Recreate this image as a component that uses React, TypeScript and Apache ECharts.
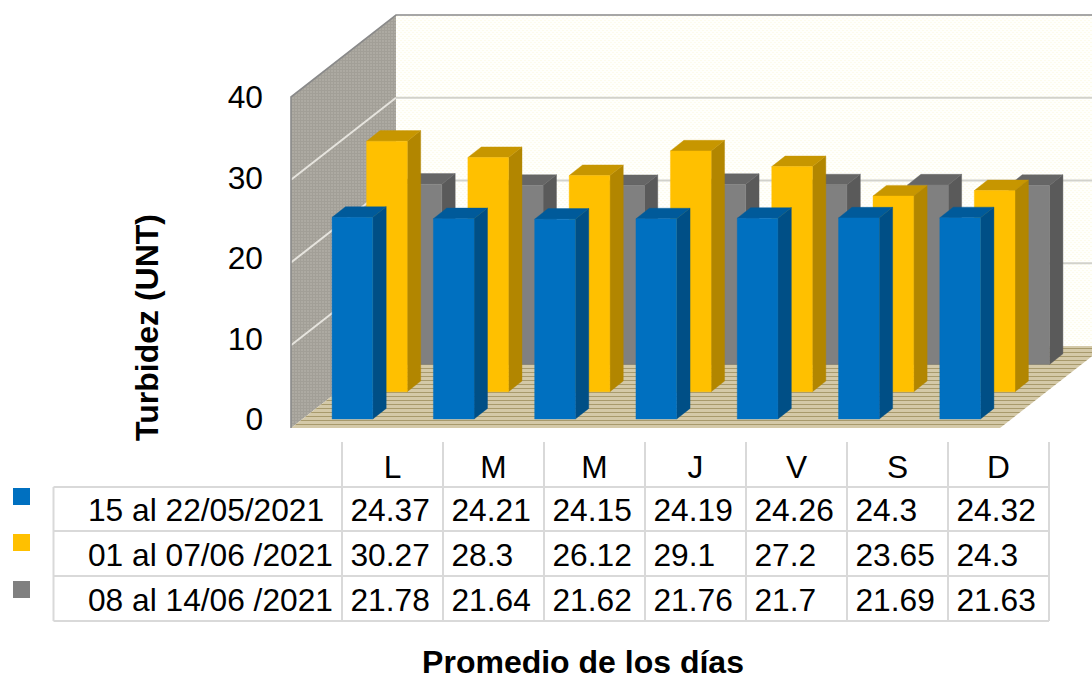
import React, { useEffect, useRef } from "react";
import * as echarts from "echarts";

const days = ["L", "M", "M", "J", "V", "S", "D"];
const yTicks = [0, 10, 20, 30, 40];
const seriesNames = ["15 al 22/05/2021", "01 al 07/06 /2021", "08 al 14/06 /2021"];
const week1 = [24.37, 24.21, 24.15, 24.19, 24.26, 24.3, 24.32];
const week2 = [30.27, 28.3, 26.12, 29.1, 27.2, 23.65, 24.3];
const week3 = [21.78, 21.64, 21.62, 21.76, 21.7, 21.69, 21.63];
const week1Text = ["24.37", "24.21", "24.15", "24.19", "24.26", "24.3", "24.32"];
const week2Text = ["30.27", "28.3", "26.12", "29.1", "27.2", "23.65", "24.3"];
const week3Text = ["21.78", "21.64", "21.62", "21.76", "21.7", "21.69", "21.63"];

const FONT = '"Liberation Sans", Arial, sans-serif';
const DEPTH_X = 105;
const DEPTH_Y = -82;

const palettes = [
  { front: "#0070c0", side: "#004f86", top: "#005a9a" },
  { front: "#ffc000", side: "#b28600", top: "#c79600" },
  { front: "#808080", side: "#5a5a5a", top: "#666666" },
];
const rowOffsets = [
  { x: 10.8, y: -9 },
  { x: 45.3, y: -36.3 },
  { x: 79.8, y: -63.6 },
];
const BAR_W = 40.7;
const BAR_DX = 13.4;
const BAR_DY = -10.6;

function tile(size: number, base: string, paint: (c: CanvasRenderingContext2D) => void) {
  const cv = document.createElement("canvas");
  cv.width = size;
  cv.height = size;
  const c = cv.getContext("2d")!;
  c.fillStyle = base;
  c.fillRect(0, 0, size, size);
  paint(c);
  return { image: cv, repeat: "repeat" } as any;
}

function makeBarRenderer(row: number) {
  return (_p: any, api: any) => {
    const i = api.value(0);
    const v = api.value(1);
    const top = api.coord([i, v]);
    const base = api.coord([i, 0]);
    const off = rowOffsets[row];
    const pal = palettes[row];
    const x0 = base[0] + off.x - BAR_W / 2;
    const x1 = x0 + BAR_W;
    const yb = base[1] + off.y;
    const yt = top[1] + off.y;
    const poly = (points: number[][], fill: string) => ({
      type: "polygon",
      shape: { points },
      style: { fill, stroke: fill, lineWidth: 0.4 },
    });
    return {
      type: "group",
      children: [
        poly([[x1, yb], [x1 + BAR_DX, yb + BAR_DY], [x1 + BAR_DX, yt + BAR_DY], [x1, yt]], pal.side),
        poly([[x0, yt], [x1, yt], [x1 + BAR_DX, yt + BAR_DY], [x0 + BAR_DX, yt + BAR_DY]], pal.top),
        poly([[x0, yb], [x1, yb], [x1, yt], [x0, yt]], pal.front),
      ],
    };
  };
}

export default function App() {
  const ref = useRef<HTMLDivElement>(null);

  useEffect(() => {
    const chart = echarts.init(ref.current!, undefined, { renderer: "svg" });

    const backFill = tile(4, "#fffffc", (c) => {
      c.fillStyle = "#fdfbec";
      c.fillRect(0, 0, 2, 1);
      c.fillRect(2, 2, 2, 1);
    });
    const sideFill = tile(3, "#adaaa2", (c) => {
      c.fillStyle = "#a29f97";
      c.fillRect(0, 0, 3, 1);
      c.fillRect(0, 0, 1, 3);
    });
    const floorFill = tile(4, "#d4c9a8", (c) => {
      c.fillStyle = "#a89a6c";
      c.fillRect(0, 0, 4, 1);
    });

    const renderWalls = (params: any, api: any) => {
      const cs = params.coordSys;
      const left = cs.x;
      const right = cs.x + cs.width;
      const y0 = api.coord([0, yTicks[0]])[1];
      const yMax = api.coord([0, yTicks[yTicks.length - 1]])[1];
      const children: any[] = [
        {
          type: "polygon",
          shape: { points: [[left + DEPTH_X, yMax + DEPTH_Y], [right + DEPTH_X, yMax + DEPTH_Y], [right + DEPTH_X, y0 + DEPTH_Y], [left + DEPTH_X, y0 + DEPTH_Y]] },
          style: { fill: backFill },
        },
        {
          type: "polygon",
          shape: { points: [[left, yMax], [left + DEPTH_X, yMax + DEPTH_Y], [left + DEPTH_X, y0 + DEPTH_Y], [left, y0]] },
          style: { fill: sideFill },
        },
      ];
      yTicks.slice(1, -1).forEach((t) => {
        const y = api.coord([0, t])[1];
        children.push({
          type: "polyline",
          shape: { points: [[left, y], [left + DEPTH_X, y + DEPTH_Y]] },
          style: { stroke: "#e6e4de", lineWidth: 2, fill: "none" },
        });
        children.push({
          type: "polyline",
          shape: { points: [[left + DEPTH_X, y + DEPTH_Y], [right + DEPTH_X, y + DEPTH_Y]] },
          style: { stroke: "#d2d2cc", lineWidth: 2, fill: "none" },
        });
      });
      children.push({
        type: "polygon",
        shape: { points: [[left, y0], [right, y0], [right + DEPTH_X, y0 + DEPTH_Y], [left + DEPTH_X, y0 + DEPTH_Y]] },
        style: { fill: floorFill },
      });
      children.push({
        type: "polyline",
        shape: { points: [[left, y0], [left, yMax], [left + DEPTH_X, yMax + DEPTH_Y], [right + DEPTH_X, yMax + DEPTH_Y]] },
        style: { stroke: "#8a8a8a", lineWidth: 1.6, fill: "none" },
      });
      return { type: "group", children };
    };

    const g: any[] = [];
    const tableLeft = 53.5;
    const colStart = 342;
    const colW = 101;
    const headTop = 442;
    const rowYs = [487, 531, 576, 621];
    const colRight = colStart + colW * days.length;
    const lineStyle = { stroke: "#d9d9d9", lineWidth: 2 };
    rowYs.forEach((y) =>
      g.push({ type: "line", shape: { x1: tableLeft, y1: y, x2: colRight, y2: y }, style: lineStyle })
    );
    g.push({ type: "line", shape: { x1: tableLeft, y1: rowYs[0], x2: tableLeft, y2: rowYs[3] }, style: lineStyle });
    for (let c = 0; c <= days.length; c++) {
      const x = colStart + c * colW;
      g.push({ type: "line", shape: { x1: x, y1: headTop, x2: x, y2: rowYs[3] }, style: lineStyle });
    }
    const textStyle = { fontFamily: FONT, fontSize: 31.7, fill: "#000000" };
    days.forEach((d, i) => {
      g.push({
        type: "text",
        x: colStart + i * colW + colW / 2,
        y: 467,
        style: { ...textStyle, text: d, align: "center", verticalAlign: "middle" },
      });
    });
    const rowsText = [week1Text, week2Text, week3Text];
    const swatchYs = [488, 534, 581];
    seriesNames.forEach((name, r) => {
      const cy = (rowYs[r] + rowYs[r + 1]) / 2 + 1;
      g.push({ type: "rect", shape: { x: 13, y: swatchYs[r], width: 17, height: 17 }, style: { fill: palettes[r].front } });
      g.push({ type: "text", x: 88, y: cy, style: { ...textStyle, text: name, align: "left", verticalAlign: "middle" } });
      rowsText[r].forEach((t, c) => {
        g.push({
          type: "text",
          x: colStart + 8.5 + c * colW,
          y: cy,
          style: { ...textStyle, text: t, align: "left", verticalAlign: "middle" },
        });
      });
    });
    g.push({
      type: "text",
      x: 583,
      y: 662,
      style: { text: "Promedio de los días", fontFamily: FONT, fontWeight: "bold", fontSize: 32, lineHeight: 24, fill: "#000", align: "center", verticalAlign: "middle" },
    });
    g.push({
      type: "text",
      x: 147,
      y: 327.5,
      rotation: Math.PI / 2,
      style: { text: "Turbidez (UNT)", fontFamily: FONT, fontWeight: "bold", fontSize: 32, fill: "#000", align: "center", verticalAlign: "middle" },
    });

    const barSeries = [week1, week2, week3]
      .map((vals, row) => ({
        type: "custom",
        name: seriesNames[row],
        xAxisIndex: 0,
        yAxisIndex: 0,
        clip: false,
        z: 5 - row,
        data: vals.map((v, i) => [i, v]),
        encode: { x: 0, y: 1 },
        renderItem: makeBarRenderer(row),
      }))
      .reverse();

    chart.setOption({
      animation: false,
      backgroundColor: "#ffffff",
      grid: [
        { left: 291, width: 709, top: 97, height: 331 },
        { left: 271, width: 10, top: 97, height: 322 },
      ],
      xAxis: [
        { type: "category", gridIndex: 0, data: days, show: false },
        { type: "category", gridIndex: 1, data: days, show: false },
      ],
      yAxis: [
        { type: "value", gridIndex: 0, min: 0, max: 40, interval: 10, show: false },
        {
          type: "value",
          gridIndex: 1,
          min: 0,
          max: 40,
          interval: 10,
          axisLine: { show: false },
          axisTick: { show: false },
          splitLine: { show: false },
          axisLabel: { margin: 8, fontFamily: FONT, fontSize: 31.7, color: "#000" },
        },
      ],
      series: [
        {
          type: "custom",
          name: "walls",
          xAxisIndex: 0,
          yAxisIndex: 0,
          clip: false,
          z: 1,
          silent: true,
          data: [[0, 0]],
          encode: { x: 0, y: 1 },
          renderItem: renderWalls,
        },
        ...barSeries,
      ],
      graphic: g,
    });
    return () => chart.dispose();
  }, []);

  return <div ref={ref} style={{ position: "absolute", left: 0, top: 0, width: 1092, height: 674 }} />;
}
